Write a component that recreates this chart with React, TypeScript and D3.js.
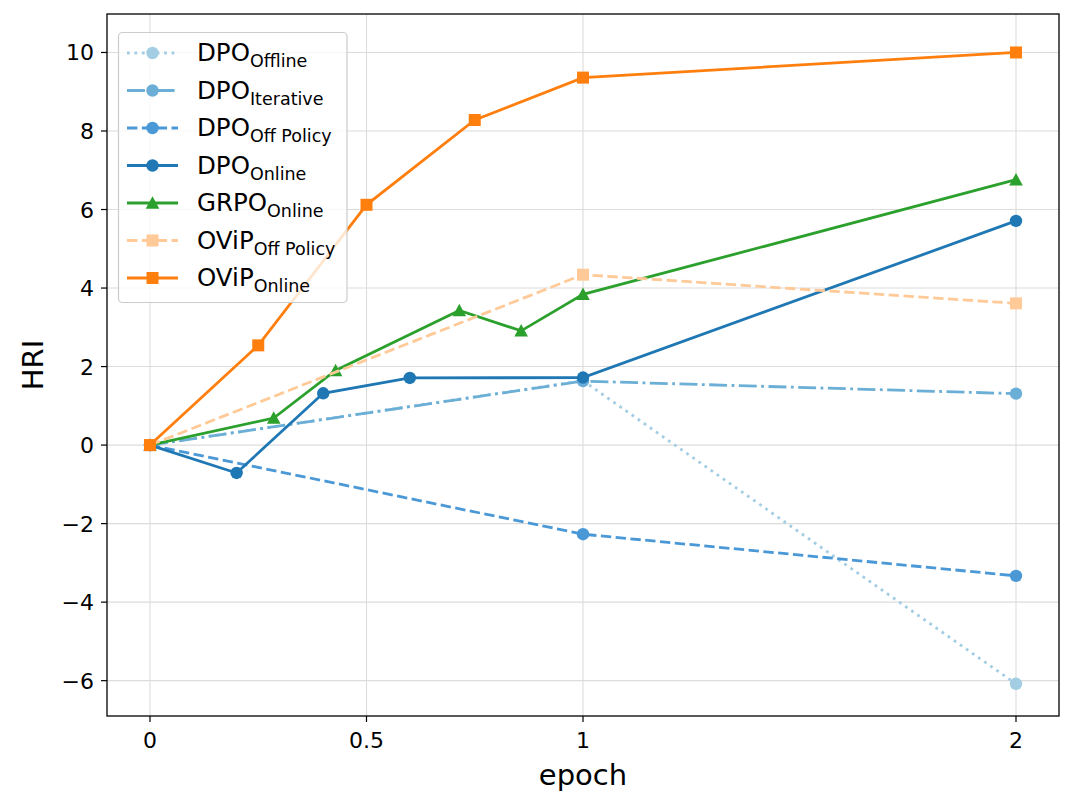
import * as d3 from "d3";

// epochs and HRI values per method
const dpoOfflineX = [0, 1, 2];
const dpoOfflineY = [0, 1.64, -6.08];
const dpoIterX = [0, 1, 2];
const dpoIterY = [0, 1.63, 1.31];
const dpoOffPolX = [0, 1, 2];
const dpoOffPolY = [0, -2.27, -3.33];
const dpoOnlineX = [0, 0.2, 0.4, 0.6, 1, 2];
const dpoOnlineY = [0, -0.71, 1.32, 1.71, 1.72, 5.71];
const grpoX = [0, 2 / 7, 3 / 7, 5 / 7, 6 / 7, 1, 2];
const grpoY = [0, 0.69, 1.9, 3.43, 2.91, 3.84, 6.76];
const ovipOffX = [0, 1, 2];
const ovipOffY = [0, 4.34, 3.61];
const ovipOnX = [0, 0.25, 0.5, 0.75, 1, 2];
const ovipOnY = [0, 2.54, 6.12, 8.28, 9.36, 10.0];

const xTicks = [0, 0.5, 1, 2];
const xTickLabels = ["0", "0.5", "1", "2"];
const yTicks = [-6, -4, -2, 0, 2, 4, 6, 8, 10];

type Series = {
  main: string;
  sub: string;
  xs: number[];
  ys: number[];
  color: string;
  dash: string;
  marker: "circle" | "square" | "triangle";
};

const LW = 2.8;
const series: Series[] = [
  { main: "DPO", sub: "Offline", xs: dpoOfflineX, ys: dpoOfflineY, color: "#a3cde3", dash: `${LW} ${LW * 1.65}`, marker: "circle" },
  { main: "DPO", sub: "Iterative", xs: dpoIterX, ys: dpoIterY, color: "#6baed6", dash: `${LW * 6.4} ${LW * 1.6} ${LW} ${LW * 1.6}`, marker: "circle" },
  { main: "DPO", sub: "Off Policy", xs: dpoOffPolX, ys: dpoOffPolY, color: "#4a98d6", dash: `${LW * 3.7} ${LW * 1.6}`, marker: "circle" },
  { main: "DPO", sub: "Online", xs: dpoOnlineX, ys: dpoOnlineY, color: "#1f77b4", dash: "", marker: "circle" },
  { main: "GRPO", sub: "Online", xs: grpoX, ys: grpoY, color: "#2ca02c", dash: "", marker: "triangle" },
  { main: "OViP", sub: "Off Policy", xs: ovipOffX, ys: ovipOffY, color: "#ffca98", dash: `${LW * 3.7} ${LW * 1.6}`, marker: "square" },
  { main: "OViP", sub: "Online", xs: ovipOnX, ys: ovipOnY, color: "#ff7f0e", dash: "", marker: "square" },
];

const W = 1080;
const H = 810;
const left = 107, right = 1059, top = 14, bottom = 716;

function Marker({ kind, x, y, color }: { kind: string; x: number; y: number; color: string }) {
  if (kind === "circle") return <circle cx={x} cy={y} r={6.2} fill={color} />;
  if (kind === "square") return <rect x={x - 6} y={y - 6} width={12} height={12} fill={color} />;
  const r = 6.8;
  return <path d={`M${x},${y - r}L${x - r},${y + r * 0.85}L${x + r},${y + r * 0.85}Z`} fill={color} />;
}

export default function App() {
  const x = d3.scaleLinear().domain([-0.1, 0, 1, 2, 2.1]).range([left, 150, 583, 1016, right]);
  const y = d3.scaleLinear().domain([-6.9, 10.98]).range([bottom, top]);
  const font = "DejaVu Sans, sans-serif";

  return (
    <div style={{ position: "absolute", left: 0, top: 0 }}>
      <svg width={W} height={H} viewBox={`0 0 ${W} ${H}`} style={{ display: "block", background: "#fff" }}>
        <g stroke="#dcdcdc" strokeWidth={1.1}>
          {xTicks.map((t) => (
            <line key={"gx" + t} x1={x(t)} x2={x(t)} y1={top} y2={bottom} />
          ))}
          {yTicks.map((t) => (
            <line key={"gy" + t} x1={left} x2={right} y1={y(t)} y2={y(t)} />
          ))}
        </g>

        {series.map((s, i) => {
          const pts = s.xs.map((v, j) => [v, s.ys[j]] as [number, number]);
          const line = d3.line<[number, number]>().x((d) => x(d[0])).y((d) => y(d[1]));
          return (
            <g key={i}>
              <path d={line(pts) ?? ""} fill="none" stroke={s.color} strokeWidth={LW} strokeDasharray={s.dash || undefined} />
              {pts.map((p, j) => (
                <Marker key={j} kind={s.marker} x={x(p[0])} y={y(p[1])} color={s.color} />
              ))}
            </g>
          );
        })}

        <rect x={left} y={top} width={right - left} height={bottom - top} fill="none" stroke="#000" strokeWidth={1.3} />

        {xTicks.map((t, i) => (
          <g key={"xt" + t}>
            <line x1={x(t)} x2={x(t)} y1={bottom} y2={bottom + 6} stroke="#000" strokeWidth={1.2} />
            <text x={x(t)} y={bottom + 32} textAnchor="middle" fontFamily={font} fontSize={22}>
              {xTickLabels[i]}
            </text>
          </g>
        ))}
        {yTicks.map((t) => (
          <g key={"yt" + t}>
            <line x1={left - 6} x2={left} y1={y(t)} y2={y(t)} stroke="#000" strokeWidth={1.2} />
            <text x={left - 13} y={y(t) + 8} textAnchor="end" fontFamily={font} fontSize={22}>
              {t < 0 ? "\u2212" + Math.abs(t) : t}
            </text>
          </g>
        ))}

        <text x={583} y={785} textAnchor="middle" fontFamily={font} fontSize={29}>
          epoch
        </text>
        <text transform={`translate(43,${(top + bottom) / 2}) rotate(-90)`} textAnchor="middle" fontFamily={font} fontSize={29}>
          HRI
        </text>

        <g>
          <rect x={118.5} y={32.5} width={228.5} height={270} rx={4} fill="#fff" fillOpacity={0.8} stroke="#cccccc" strokeWidth={1.2} />
          {series.map((s, i) => {
            const cy = 53 + i * 37.5;
            return (
              <g key={"lg" + i}>
                <line x1={127} x2={178} y1={cy} y2={cy} stroke={s.color} strokeWidth={LW} strokeDasharray={s.dash || undefined} />
                <Marker kind={s.marker} x={152.5} y={cy} color={s.color} />
                <text x={197} y={cy + 8} fontFamily={font} fontSize={24.5}>
                  {s.main}
                  <tspan fontSize={17.5} dy={6}>
                    {s.sub}
                  </tspan>
                </text>
              </g>
            );
          })}
        </g>
      </svg>
    </div>
  );
}
